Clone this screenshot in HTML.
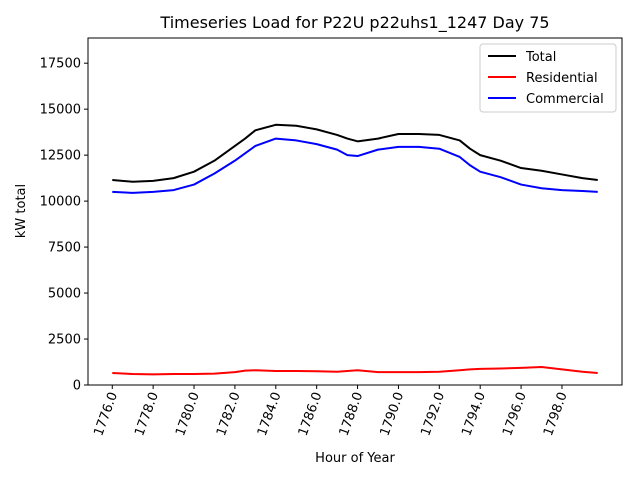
<!DOCTYPE html>
<html><head><meta charset="utf-8"><style>
body{margin:0;background:#fff;}
svg text{font-family:"DejaVu Sans","Liberation Sans",sans-serif;}
</style></head><body>
<svg id="chart" width="640" height="480" xmlns="http://www.w3.org/2000/svg">
<rect width="640" height="480" fill="#fff"/>
<text x="355" y="28" font-size="16" text-anchor="middle">Timeseries Load for P22U p22uhs1_1247  Day 75</text>
<g id="ticks"></g>
<g id="lines"></g>
<rect x="88" y="38" width="534" height="347" fill="none" stroke="#000" stroke-width="1"/>
<text x="355" y="462" font-size="13" text-anchor="middle">Hour of Year</text>
<text transform="translate(25,211) rotate(-90)" font-size="13" text-anchor="middle">kW total</text>
<g>
<rect x="480" y="44" width="136" height="68" rx="3" fill="#fff" stroke="#ccc"/>
<line x1="488" y1="56" x2="516" y2="56" stroke="#000" stroke-width="2"/>
<text x="526" y="61" font-size="13">Total</text>
<line x1="488" y1="77" x2="516" y2="77" stroke="red" stroke-width="2"/>
<text x="526" y="82" font-size="13">Residential</text>
<line x1="488" y1="98" x2="516" y2="98" stroke="blue" stroke-width="2"/>
<text x="526" y="103" font-size="13">Commercial</text>
</g>
</svg>
<script>
const hours=[1776,1777,1778,1779,1780,1781,1782,1782.5,1783,1784,1785,1786,1787,1787.5,1788,1789,1790,1791,1792,1793,1793.5,1794,1795,1796,1797,1798,1799,1799.75];
const total=[11150,11050,11100,11250,11600,12200,13000,13400,13850,14150,14100,13900,13600,13400,13250,13400,13650,13650,13600,13300,12850,12500,12200,11800,11650,11450,11250,11150];
const commercial=[10500,10450,10500,10600,10900,11500,12200,12600,13000,13400,13300,13100,12800,12500,12450,12800,12950,12950,12850,12400,11950,11600,11300,10900,10700,10600,10550,10500];
const residential=[650,600,580,600,600,620,700,780,800,760,760,750,720,760,800,700,700,700,720,800,850,880,900,930,980,850,720,650];
const yTicks=[0,2500,5000,7500,10000,12500,15000,17500];
const xTicks=[1776,1778,1780,1782,1784,1786,1788,1790,1792,1794,1796,1798];
const NS="http://www.w3.org/2000/svg";
const x0=1774.8125,x1=1800.9375,L=88,R=622,T=38,B=385,yMax=18870;
const xs=v=>L+(v-x0)/(x1-x0)*(R-L);
const ys=v=>B-v/yMax*(B-T);
const tk=document.getElementById('ticks');
function mk(t,a,p){const e=document.createElementNS(NS,t);for(const k in a)e.setAttribute(k,a[k]);p.appendChild(e);return e;}
yTicks.forEach(v=>{const y=ys(v);
const l=mk('line',{x1:L-4,x2:L,y1:y,y2:y,stroke:'#000'},tk);


const t=mk('text',{x:L-7,y:y+4.5,'font-size':13,'text-anchor':'end'},tk);t.textContent=v;

});
xTicks.forEach(v=>{const x=xs(v);
const l=mk('line',{x1:x,x2:x,y1:B,y2:B+4,stroke:'#000'},tk);


const t=mk('text',{transform:`translate(${x+5},${B+9}) rotate(-70)`,'font-size':13,'text-anchor':'end'},tk);t.textContent=v.toFixed(1);

});
const lg=document.getElementById('lines');
[[total,'#000','total-line'],[residential,'red','residential-line'],[commercial,'blue','commercial-line']].forEach(([d,c,n])=>{
const p=mk('polyline',{points:d.map((v,i)=>xs(hours[i])+','+ys(v)).join(' '),fill:'none',stroke:c,'stroke-width':2,'stroke-linejoin':'round'},lg);

});
</script>
</body></html>
